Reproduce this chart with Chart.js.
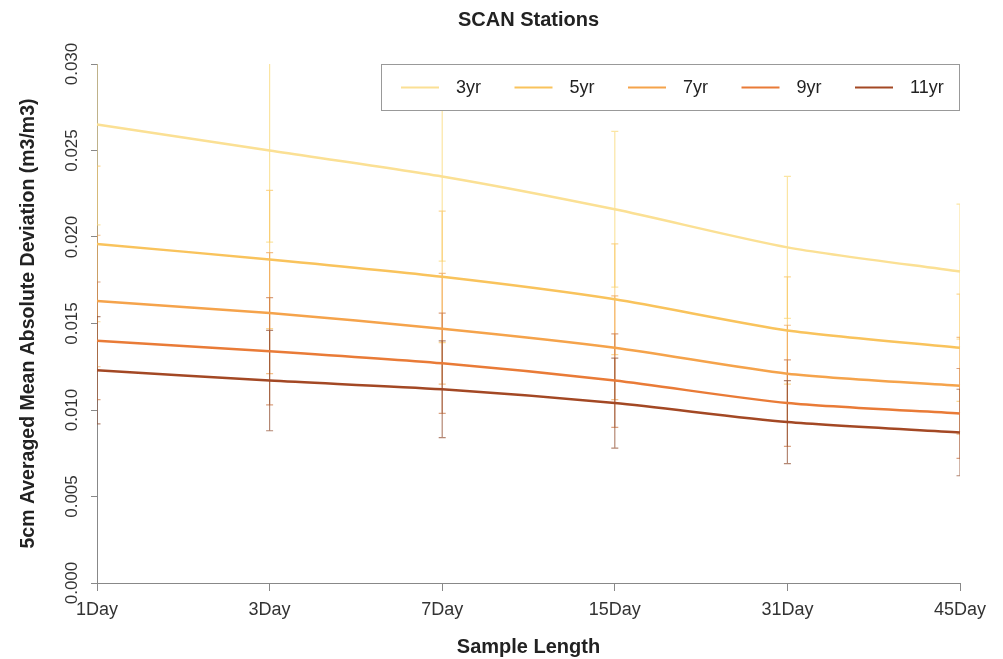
<!DOCTYPE html>
<html>
<head>
<meta charset="utf-8">
<title>SCAN Stations</title>
<script src="https://cdn.jsdelivr.net/npm/chart.js@4/dist/chart.umd.min.js"></script>
<style>
  html, body { margin: 0; padding: 0; background: #fff; }
</style>
</head>
<body>
<canvas id="chart" width="1003" height="659"></canvas>
<script>
  "use strict";

  // Data
  const categories = ["1Day", "3Day", "7Day", "15Day", "31Day", "45Day"];
  const seriesNames = ["3yr", "5yr", "7yr", "9yr", "11yr"];
  const yTicks = [0, 0.005, 0.01, 0.015, 0.02, 0.025, 0.03];

  const mad3yr = [0.0265, 0.0250, 0.0235, 0.0216, 0.0194, 0.0180];
  const mad5yr = [0.0196, 0.0187, 0.0177, 0.0164, 0.0146, 0.0136];
  const mad7yr = [0.0163, 0.0156, 0.0147, 0.0136, 0.0121, 0.0114];
  const mad9yr = [0.0140, 0.0134, 0.0127, 0.0117, 0.0104, 0.0098];
  const mad11yr = [0.0123, 0.0117, 0.0112, 0.0104, 0.0093, 0.0087];

  const err3yr = [0.0058, 0.0053, 0.0049, 0.0045, 0.0041, 0.0039];
  const err5yr = [0.0045, 0.0040, 0.0038, 0.0032, 0.0031, 0.0031];
  const err7yr = [0.0038, 0.0035, 0.0032, 0.0030, 0.0028, 0.0028];
  const err9yr = [0.0034, 0.0031, 0.0029, 0.0027, 0.0025, 0.0026];
  const err11yr = [0.0031, 0.0029, 0.0028, 0.0026, 0.0024, 0.0025];

  const colors = ["#fbe094", "#f9c35c", "#f5a34b", "#e97b37", "#a34824"];
  const errColors = [
    "rgba(250, 222, 140, 0.8)",
    "rgba(249, 195, 92, 0.65)",
    "rgba(240, 160, 75, 0.65)",
    "rgba(200, 110, 60, 0.65)",
    "rgba(140, 70, 40, 0.65)"
  ];

  const values = [mad3yr, mad5yr, mad7yr, mad9yr, mad11yr];
  const errors = [err3yr, err5yr, err7yr, err9yr, err11yr];

  const FONT = "'Liberation Sans', Arial, Helvetica, sans-serif";
  Chart.defaults.font.family = FONT;
  Chart.defaults.color = "#222";

  // Error bars (drawn behind the lines)
  const errorBars = {
    id: "errorBars",
    beforeDatasetsDraw(chart) {
      const { ctx, chartArea, scales } = chart;
      ctx.save();
      ctx.beginPath();
      ctx.rect(chartArea.left, chartArea.top, chartArea.right - chartArea.left, chartArea.bottom - chartArea.top);
      ctx.clip();
      ctx.lineWidth = 1.2;
      chart.data.datasets.forEach(function (ds) {
        ctx.strokeStyle = ds.errorColor;
        ds.data.forEach(function (v, i) {
          const px = scales.x.getPixelForValue(i);
          const top = scales.y.getPixelForValue(v + ds.errors[i]);
          const bot = scales.y.getPixelForValue(v - ds.errors[i]);
          ctx.beginPath();
          ctx.moveTo(px, top);
          ctx.lineTo(px, bot);
          ctx.moveTo(px - 3.5, top);
          ctx.lineTo(px + 3.5, top);
          ctx.moveTo(px - 3.5, bot);
          ctx.lineTo(px + 3.5, bot);
          ctx.stroke();
        });
      });
      ctx.restore();
    }
  };

  // Title, rotated y tick labels and the boxed legend inside the plot
  const extras = {
    id: "extras",
    afterDraw(chart) {
      const { ctx, chartArea, scales } = chart;
      ctx.save();

      ctx.font = "bold 20px " + FONT;
      ctx.fillStyle = "#222";
      ctx.textAlign = "center";
      ctx.textBaseline = "middle";
      ctx.fillText("SCAN Stations", (chartArea.left + chartArea.right) / 2, 20);

      ctx.font = "17px " + FONT;
      ctx.fillStyle = "#333";
      yTicks.forEach(function (t) {
        const py = scales.y.getPixelForValue(t);
        ctx.save();
        ctx.translate(72, py);
        ctx.rotate(-Math.PI / 2);
        ctx.textAlign = "center";
        ctx.textBaseline = "middle";
        ctx.fillText(t.toFixed(3), 0, 0);
        ctx.restore();
      });

      // legend box
      const boxW = 579, boxH = 47;
      const bx = chartArea.right - boxW, by = chartArea.top;
      ctx.fillStyle = "#fff";
      ctx.fillRect(bx, by, boxW, boxH);
      ctx.strokeStyle = "#999";
      ctx.lineWidth = 1;
      ctx.strokeRect(bx + 0.5, by + 0.5, boxW - 1, boxH - 1);
      ctx.font = "18px " + FONT;
      ctx.textAlign = "left";
      ctx.textBaseline = "middle";
      chart.data.datasets.forEach(function (ds, i) {
        const x0 = bx + 20 + i * 113.5;
        const cy = by + boxH / 2;
        ctx.strokeStyle = ds.borderColor;
        ctx.lineWidth = 2;
        ctx.beginPath();
        ctx.moveTo(x0, cy);
        ctx.lineTo(x0 + 38, cy);
        ctx.stroke();
        ctx.fillStyle = "#222";
        ctx.fillText(ds.label, x0 + 55, cy + 1);
      });
      ctx.restore();
    }
  };

  const datasets = seriesNames.map(function (name, i) {
    return {
      label: name,
      data: values[i],
      errors: errors[i],
      errorColor: errColors[i],
      borderColor: colors[i],
      backgroundColor: colors[i],
      borderWidth: 2.5,
      pointRadius: 0,
      tension: 0.25,
      fill: false
    };
  });

  new Chart(document.getElementById("chart"), {
    type: "line",
    data: { labels: categories, datasets: datasets },
    plugins: [errorBars, extras],
    options: {
      responsive: false,
      animation: false,
      layout: { padding: { top: 64, right: 43, left: 0, bottom: 0 } },
      plugins: {
        legend: { display: false },
        title: { display: false },
        tooltip: { enabled: false }
      },
      scales: {
        x: {
          type: "category",
          offset: false,
          grid: { drawOnChartArea: false, drawTicks: true, tickLength: 8, color: "#888" },
          border: { display: true, color: "#888", width: 1 },
          ticks: { font: { size: 18 }, color: "#333", padding: 8, maxRotation: 0, autoSkip: false },
          title: {
            display: true,
            text: "Sample Length",
            font: { size: 20, weight: "bold" },
            color: "#222",
            padding: { top: 0, bottom: 0 }
          },
          afterFit: function (scale) { scale.height = 76; }
        },
        y: {
          min: 0,
          max: 0.03,
          grid: { drawOnChartArea: false, drawTicks: true, tickLength: 6, color: "#888" },
          border: { display: true, color: "#888", width: 1 },
          ticks: { stepSize: 0.005, color: "rgba(0,0,0,0)", font: { size: 17 } },
          title: {
            display: true,
            text: "5cm Averaged Mean Absolute Deviation (m3/m3)",
            font: { size: 19.5, weight: "bold" },
            color: "#222",
            padding: { top: 17, bottom: 0 }
          },
          afterFit: function (scale) { scale.width = 97; }
        }
      }
    }
  });
</script>
</body>
</html>
